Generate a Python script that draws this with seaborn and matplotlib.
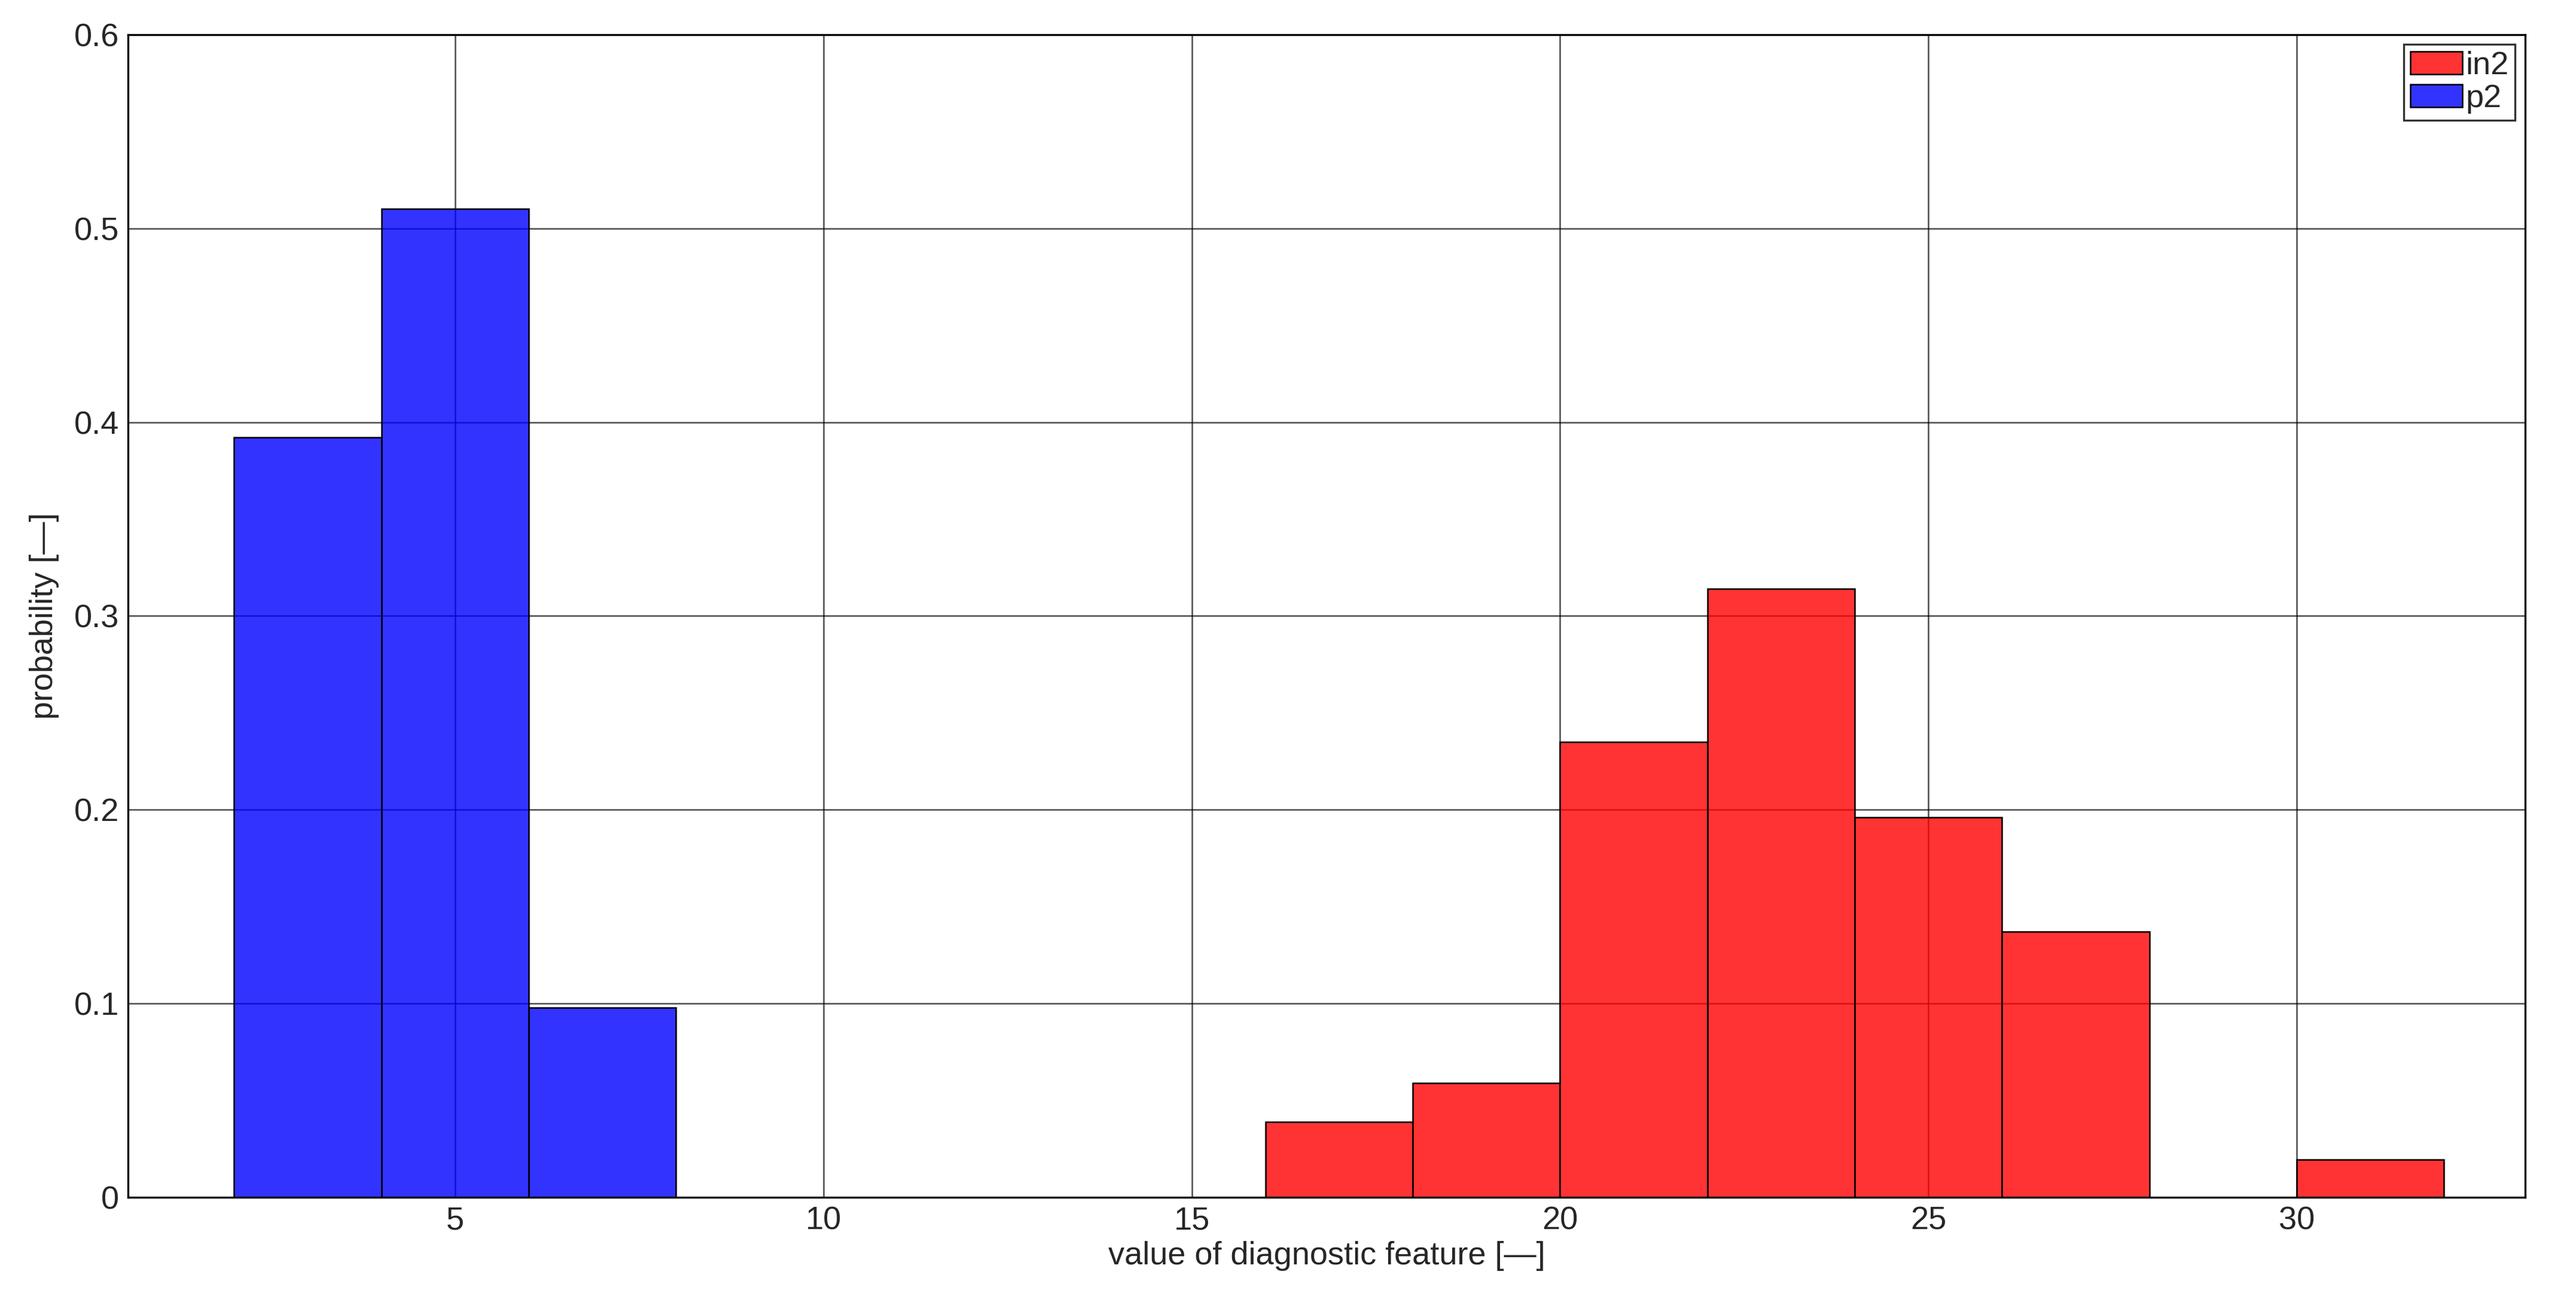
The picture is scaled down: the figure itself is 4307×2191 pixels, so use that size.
import matplotlib
matplotlib.use("Agg")
import matplotlib.pyplot as plt
import seaborn as sns
import numpy as np

sns.set_style("white")
plt.rcParams['font.family'] = ['Liberation Sans', 'DejaVu Sans']

p2_edges = [2, 4, 6, 8]
p2_vals = [0.392, 0.510, 0.098]
in2_edges = [16, 18, 20, 22, 24, 26, 28, 30, 32]
in2_vals = [0.039, 0.059, 0.235, 0.314, 0.196, 0.137, 0.0, 0.0196]

fig = plt.figure(figsize=(4307/300, 2191/300), dpi=300)
ax = fig.add_axes([0.0497, 0.0866, 0.9305, 0.8871])

def centers(e):
    e = np.asarray(e, float)
    return (e[:-1] + e[1:]) / 2

sns.histplot(x=centers(in2_edges), weights=in2_vals, bins=in2_edges, ax=ax,
             color=(1, 0, 0), alpha=0.8, edgecolor='black', linewidth=0.6, label='in2')
sns.histplot(x=centers(p2_edges), weights=p2_vals, bins=p2_edges, ax=ax,
             color=(0, 0, 1), alpha=0.8, edgecolor='black', linewidth=0.6, label='p2')

ax.set_xlim(0.56, 33.1)
ax.set_ylim(0, 0.6)
ax.set_xticks([5, 10, 15, 20, 25, 30])
ax.set_yticks([0, 0.1, 0.2, 0.3, 0.4, 0.5, 0.6])
ax.set_yticklabels(['0', '0.1', '0.2', '0.3', '0.4', '0.5', '0.6'])
ax.grid(True, color='black', linewidth=0.6, alpha=0.7)
ax.set_axisbelow(True)
for s in ax.spines.values():
    s.set_color('black'); s.set_linewidth(0.8)
ax.tick_params(axis='both', labelsize=13, direction='in', length=4, color='black')
ax.set_xlabel('value of diagnostic feature [—]', fontsize=13, labelpad=2)
ax.set_ylabel('probability [—]', fontsize=13, labelpad=6)
leg = ax.legend(loc='upper right', fontsize=13, frameon=True, fancybox=False,
                edgecolor='black', borderpad=0.2, handlelength=1.6, handletextpad=0.1,
                labelspacing=0.1, borderaxespad=0.3)
leg.get_frame().set_linewidth(0.8)
fig.savefig('out.png', dpi=300)
